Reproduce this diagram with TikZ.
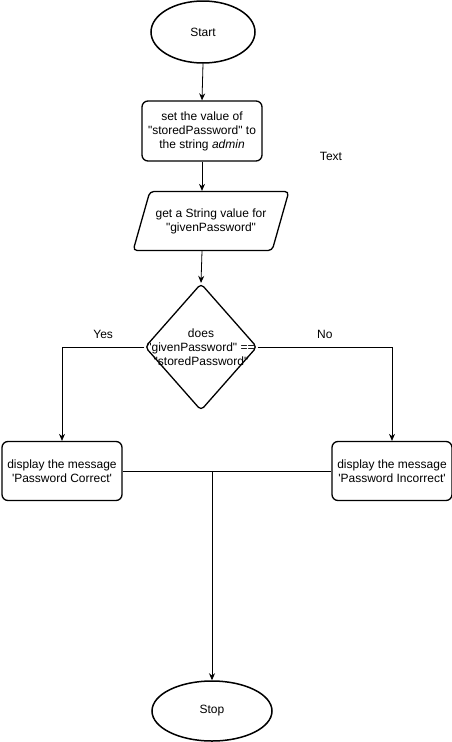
\documentclass[tikz,border=0pt]{standalone}
\usepackage{fontspec}
\setmainfont{Liberation Sans}[Ligatures=TeXOff]
\usetikzlibrary{shapes.geometric,arrows.meta}

\begin{document}
\begin{tikzpicture}[x=1pt,y=-1pt,
        font=\fontsize{12}{14}\selectfont,
        term/.style={ellipse,draw,line width=1.5pt,inner sep=0pt},
        proc/.style={rectangle,draw,rounded corners=6pt,line width=1.3pt,align=center,
            minimum width=120pt,minimum height=60pt,inner sep=0pt},
        io/.style={trapezium,trapezium left angle=59,trapezium right angle=121,
            trapezium stretches=true,draw,rounded corners=4pt,line width=1.3pt,align=center,
            minimum width=156pt,minimum height=59pt,inner sep=0pt},
        decide/.style={diamond,draw,rounded corners=4pt,line width=1.3pt,
            minimum width=112pt,minimum height=127pt,inner sep=0pt},
        flow/.style={-{Stealth[length=7pt,width=6pt]},line width=0.8pt},
        link/.style={line width=0.8pt}
    ]
        \useasboundingbox (0,0) rectangle (452,742);

        % terminals
        \node[term,minimum width=104pt,minimum height=62pt] (start) at (203,32) {Start};
        \node[term,minimum width=120pt,minimum height=60pt] (stop) at (212,711) {Stop};

        % steps
        \node[proc] (setval) at (202,131) {set the value of\\"storedPassword" to\\the string \emph{admin}};
        \node[io] (getval) at (211,221) {get a String value for\\"givenPassword"};
        \node[decide] (check) at (201,347) {};
        \node[align=center] (checktext) at (check.center) {does\\"givenPassword" ==\\"storedPassword"};
        \node[proc,minimum height=59pt] (correct) at (62,471) {display the message\\'Password Correct'};
        \node[proc,minimum height=59pt] (wrong) at (392,471) {display the message\\'Password Incorrect'};
        \node (note) at (331,156) {Text};

        % connectors
        \draw[flow] (start.south) -- (setval.north);
        \draw[flow] (setval.south) -- (setval.south |- getval.north);
        \draw[flow] (setval.south |- getval.south) -- (check.north);
        \draw[flow] (check.west) -| node[pos=0.25,above=5pt] (yes) {Yes} (correct.north);
        \draw[flow] (check.east) -| node[pos=0.25,above=5pt] (no) {No} (wrong.north);
        \draw[link] (correct.east) -- (wrong.west);
        \coordinate (join) at (correct.east -| stop.north);
        \draw[flow] (join) -- (stop.north);
    \end{tikzpicture}
\end{document}
